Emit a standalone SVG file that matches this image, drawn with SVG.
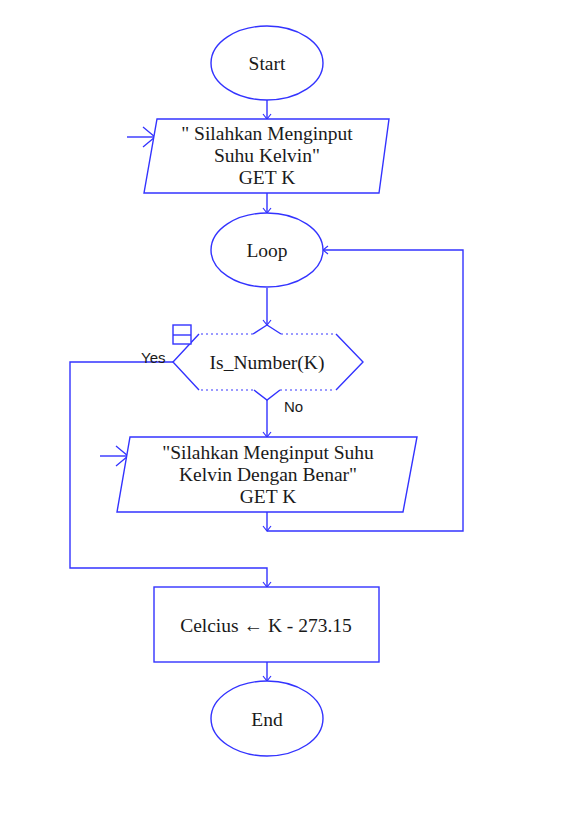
<svg xmlns="http://www.w3.org/2000/svg" width="577" height="824" viewBox="0 0 577 824">
<defs>
<style>
.sh{fill:#fff;stroke:#3333ff;stroke-width:1.4}
.ln{fill:none;stroke:#3333ff;stroke-width:1.4}
.dt{fill:none;stroke:#7a7aff;stroke-width:1.3;stroke-dasharray:2,3}
.t{font-family:"Liberation Serif","Times New Roman",serif;font-size:19.5px;fill:#1a1a1a;text-anchor:middle}
.s{font-family:"Liberation Sans",Arial,sans-serif;font-size:15px;fill:#1a1a1a}
</style>
<marker id="a" markerWidth="10" markerHeight="10" refX="9" refY="5" orient="auto" markerUnits="userSpaceOnUse">
<path d="M4,1 L9,5 L4,9" fill="none" stroke="#3333ff" stroke-width="1.2"/>
</marker>
<marker id="b" markerWidth="30" markerHeight="30" refX="28" refY="15" orient="auto" markerUnits="userSpaceOnUse">
<path d="M16,5 L28,15 L16,25" fill="none" stroke="#3333ff" stroke-width="1.3"/>
</marker>
</defs>
<rect width="577" height="824" fill="#fff"/>
<g id="connectors">
<line class="ln" x1="267" y1="100" x2="267" y2="119" marker-end="url(#a)"/>
<line class="ln" x1="127" y1="137" x2="155" y2="137" marker-end="url(#b)"/>
<line class="ln" x1="267" y1="193" x2="267" y2="213" marker-end="url(#a)"/>
<line class="ln" x1="267" y1="288" x2="267" y2="325" marker-end="url(#a)"/>
<line class="ln" x1="267" y1="400" x2="267" y2="437" marker-end="url(#a)"/>
<line class="ln" x1="100" y1="456" x2="128" y2="456" marker-end="url(#b)"/>
<line class="ln" x1="267" y1="512" x2="267" y2="531" marker-end="url(#a)"/>
<polyline class="ln" points="267,531 463,531 463,250 323,250" marker-end="url(#a)"/>
<polyline class="ln" points="173,362 70,362 70,568 267,568 267,587" marker-end="url(#a)"/>
<line class="ln" x1="267" y1="662" x2="267" y2="681" marker-end="url(#a)"/>
<text class="s" x="141" y="363">Yes</text>
<text class="s" x="284" y="412">No</text>
</g>
<g id="start">
<ellipse class="sh" cx="267" cy="63" rx="56" ry="37"/>
<text class="t" x="267" y="70">Start</text>
</g>
<g id="input1">
<polygon class="sh" points="157,119 389,119 379,193 144,193"/>
<text class="t" x="267" y="140">" Silahkan Menginput</text>
<text class="t" x="267" y="162">Suhu Kelvin"</text>
<text class="t" x="267" y="184">GET K</text>
</g>
<g id="loop">
<ellipse class="sh" cx="267" cy="250" rx="56" ry="37"/>
<text class="t" x="267" y="257">Loop</text>
</g>
<g id="decision">
<polygon points="199,334 336,334 363,362 336,390 199,390 173,362" fill="#fff" stroke="none"/>
<polyline class="ln" points="199,334 173,362 199,390"/>
<polyline class="ln" points="336,334 363,362 336,390"/>
<line class="dt" x1="201" y1="334" x2="253" y2="334"/>
<line class="dt" x1="281" y1="334" x2="335" y2="334"/>
<line class="dt" x1="201" y1="390" x2="254" y2="390"/>
<line class="dt" x1="280" y1="390" x2="335" y2="390"/>
<polyline class="ln" points="253,334 267,325 281,334"/>
<polyline class="ln" points="254,390 267,400 280,390"/>
<rect class="sh" x="173" y="325" width="18" height="19"/>
<line class="ln" x1="173" y1="335" x2="191" y2="335"/>
<text class="t" x="267" y="369">Is_Number(K)</text>
</g>
<g id="input2">
<polygon class="sh" points="130,437 417,437 403,512 117,512"/>
<text class="t" x="268" y="459">"Silahkan Menginput Suhu</text>
<text class="t" x="268" y="481">Kelvin Dengan Benar"</text>
<text class="t" x="268" y="503">GET K</text>
</g>
<g id="process">
<rect class="sh" x="154" y="587" width="225" height="75"/>
<text class="t" x="266" y="632">Celcius ← K - 273.15</text>
</g>
<g id="end">
<ellipse class="sh" cx="267" cy="718.5" rx="56" ry="37.5"/>
<text class="t" x="267" y="726">End</text>
</g>
</svg>
